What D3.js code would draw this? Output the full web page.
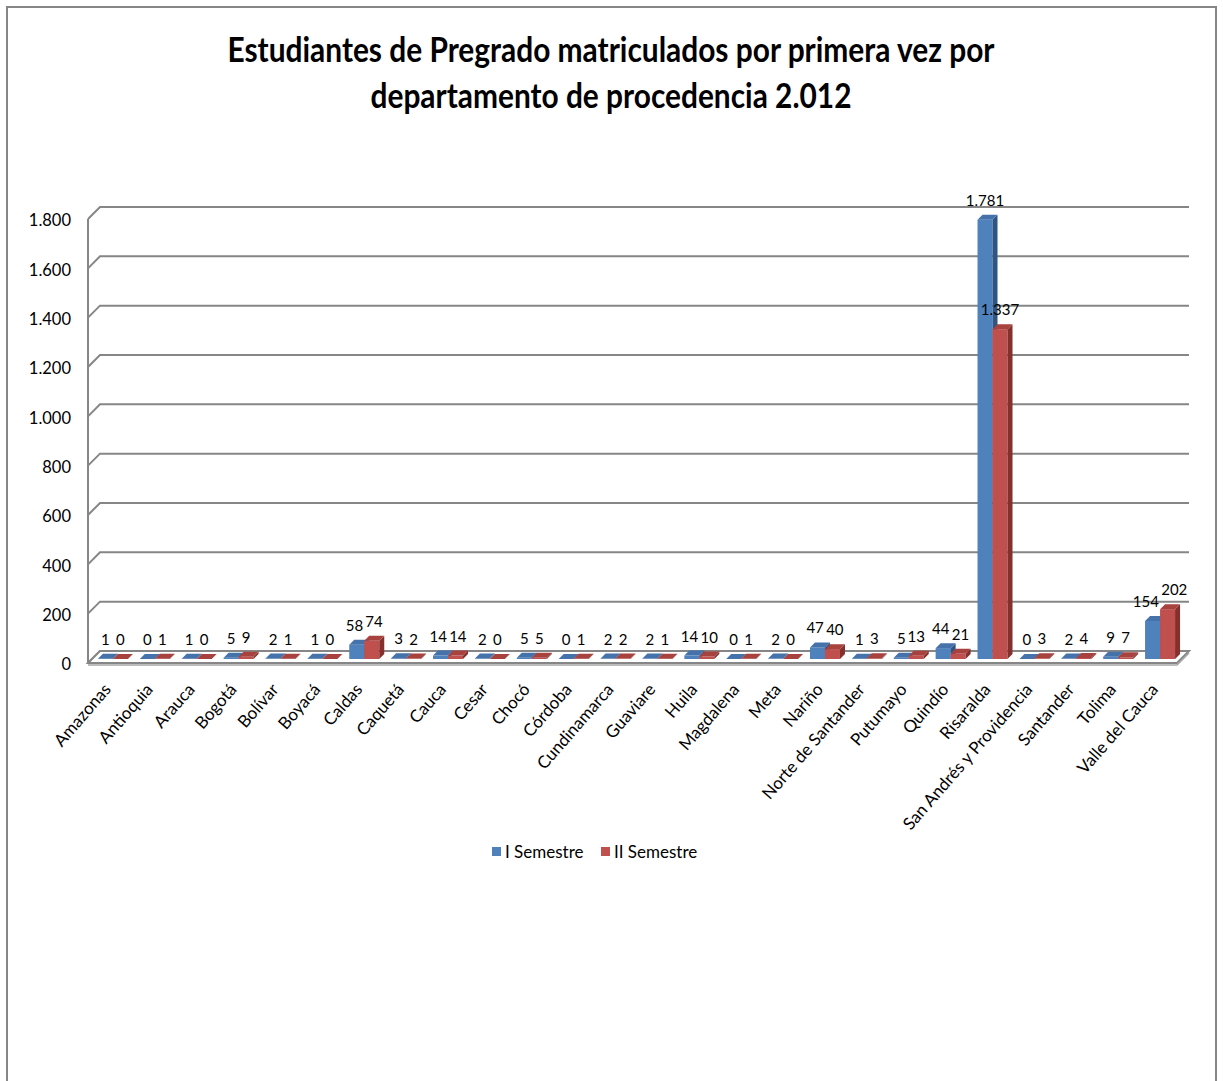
<!DOCTYPE html>
<html>
<meta charset="utf-8">
<title>Estudiantes de Pregrado 2012</title>
<style>
    body {
        margin: 0;
        background: #fff;
    }

    text {
        font-family: Lato, "Open Sans", sans-serif;
        fill: #000;
    }

    .grid {
        fill: none;
        stroke: #868686;
        stroke-width: 2px;
    }
</style>
<script src="https://d3js.org/d3.v7.min.js" charset="utf-8"></script>

<body>
<script>
    // data
    let departamentos = ["Amazonas", "Antioquia", "Arauca", "Bogotá", "Bolívar", "Boyacá", "Caldas", "Caquetá",
        "Cauca", "Cesar", "Chocó", "Córdoba", "Cundinamarca", "Guaviare", "Huila", "Magdalena", "Meta", "Nariño",
        "Norte de Santander", "Putumayo", "Quindío", "Risaralda", "San Andrés y Providencia", "Santander",
        "Tolima", "Valle del Cauca"]
    let semestre1 = [1, 0, 1, 5, 2, 1, 58, 3, 14, 2, 5, 0, 2, 2, 14, 0, 2, 47, 1, 5, 44, 1781, 0, 2, 9, 154]
    let semestre2 = [0, 1, 0, 9, 1, 0, 74, 2, 14, 0, 5, 1, 2, 1, 10, 1, 0, 40, 3, 13, 21, 1337, 3, 4, 7, 202]
    let seriesNames = ["I Semestre", "II Semestre"]
    let yTicks = [0, 200, 400, 600, 800, 1000, 1200, 1400, 1600, 1800]
    let titleLines = ["Estudiantes de Pregrado matriculados por primera vez por",
        "departamento de procedencia 2.012"]

    let colors = {
        "I Semestre": { front: "#4F81BD", top: "#4572AA", side: "#2E5584" },
        "II Semestre": { front: "#C0504D", top: "#A8423F", side: "#86302E" }
    }

    let es = d3.formatLocale({ decimal: ",", thousands: ".", grouping: [3], currency: ["$", ""] })
    let fmt = es.format(",d")

    const W = 1223, H = 1081
    const depth = 12          // oblique offset of the back wall
    const barZ0 = 4, barZ1 = 9 // bars sit between these depths

    let svg = d3.select("body").append("svg")
        .attr("width", W).attr("height", H)

    svg.append("rect")
        .attr("x", 7).attr("y", 7)
        .attr("width", 1209).attr("height", 1090)
        .attr("fill", "#fff")
        .attr("stroke", "#868686").attr("stroke-width", 2)

    // title
    let title = svg.append("g")
    title.selectAll("text")
        .data(titleLines)
        .join("text")
        .attr("x", 611)
        .attr("y", (d, i) => 62 + i * 46)
        .attr("text-anchor", "middle")
        .attr("font-size", 34)
        .attr("font-weight", "bold")
        .attr("textLength", (d, i) => i == 0 ? 767 : 481)
        .attr("lengthAdjust", "spacingAndGlyphs")
        .text(d => d)

    // scales, front plane
    let x0 = d3.scaleBand()
        .domain(departamentos)
        .range([88, 1177])
        .paddingInner(0.284)
        .paddingOuter(0.142)
    let x1 = d3.scaleBand()
        .domain(seriesNames)
        .range([0, x0.bandwidth()])
    // y on back wall
    let y = d3.scaleLinear()
        .domain([0, 1800])
        .range([651, 207])

    let xLeft = 88, xRight = 1177

    // walls and gridlines
    let grid = svg.append("g")
    grid.selectAll("path.gl")
        .data(yTicks)
        .join("path")
        .attr("class", "grid gl")
        .attr("d", d => `M${xLeft},${y(d) + depth}L${xLeft + depth},${y(d)}L${xRight + depth},${y(d)}`)
    grid.append("line")
        .attr("class", "grid")
        .attr("x1", xLeft).attr("x2", xLeft)
        .attr("y1", y(1800) + depth).attr("y2", y(0) + depth)

    // floor
    grid.append("path")
        .attr("fill", "#fff")
        .attr("stroke", "#868686")
        .attr("stroke-width", 2)
        .attr("d", `M${xLeft},${y(0) + depth}L${xRight},${y(0) + depth}L${xRight + depth},${y(0)}L${xLeft + depth},${y(0)}Z`)
    grid.append("path")
        .attr("fill", "none")
        .attr("stroke", "#a6a6a6")
        .attr("stroke-width", 1.5)
        .attr("d", `M${xLeft},${y(0) + depth + 2}L${xRight},${y(0) + depth + 2}L${xRight + depth},${y(0) + 2}`)

    // y tick labels
    svg.append("g").selectAll("text")
        .data(yTicks)
        .join("text")
        .attr("x", 71)
        .attr("y", d => y(d) + depth + 3)
        .attr("text-anchor", "end")
        .attr("dominant-baseline", "middle")
        .attr("font-size", 16.5)
        .text(d => fmt(d))

    let rows = []
    departamentos.forEach((c, i) => {
        rows.push({ cat: c, serie: seriesNames[0], value: semestre1[i] })
        rows.push({ cat: c, serie: seriesNames[1], value: semestre2[i] })
    })

    let bw = x1.bandwidth()
    let dz = barZ1 - barZ0
    let bars = svg.append("g").selectAll("g")
        .data(rows)
        .join("g")
        .attr("transform", d => `translate(${x0(d.cat) + x1(d.serie) + barZ0},${-barZ0})`)

    bars.each(function (d) {
        let g = d3.select(this)
        let yt = y(d.value) + depth, yb = y(0) + depth
        let c = colors[d.serie]
        if (d.value > 0) {
            g.append("rect")
                .attr("x", 0).attr("y", yt)
                .attr("width", bw).attr("height", yb - yt)
                .attr("fill", c.front)
            g.append("path")
                .attr("fill", c.side)
                .attr("d", `M${bw},${yt}L${bw + dz},${yt - dz}L${bw + dz},${yb - dz}L${bw},${yb}Z`)
        }
        g.append("path")
            .attr("fill", c.top)
            .attr("d", `M0,${yt}L${bw},${yt}L${bw + dz},${yt - dz}L${dz},${yt - dz}Z`)
    })

    // value labels
    let vlabels = svg.append("g").selectAll("text")
        .data(rows)
        .join("text")
        .attr("x", d => x0(d.cat) + x1(d.serie) + barZ0 + bw / 2)
        .attr("y", d => y(d.value) + depth - barZ0 - 14)
        .attr("text-anchor", "middle")
        .attr("font-size", 15)
        .text(d => fmt(d.value))

    // push apart the two labels of a group when they collide
    let nodes = vlabels.nodes()
    for (let i = 0; i < nodes.length; i += 2) {
        let a = nodes[i], b = nodes[i + 1]
        let ba = a.getBBox(), bb = b.getBBox()
        let overlapX = ba.x + ba.width - bb.x
        let overlapY = Math.min(ba.y + ba.height, bb.y + bb.height) - Math.max(ba.y, bb.y)
        if (overlapX > 0 && overlapY > 0) {
            let s = overlapX / 2 + 1
            d3.select(a).attr("x", +a.getAttribute("x") - s)
            d3.select(b).attr("x", +b.getAttribute("x") + s)
        }
    }

    // category labels
    svg.append("g").selectAll("text")
        .data(departamentos)
        .join("text")
        .attr("transform", d => `translate(${x0(d) + x0.bandwidth() / 2 + 3},${y(0) + depth + 27}) rotate(-49)`)
        .attr("text-anchor", "end")
        .attr("font-size", 17)
        .text(d => d)

    // legend
    let legend = svg.append("g").attr("transform", "translate(492,847)")
    let li = legend.selectAll("g")
        .data(seriesNames)
        .join("g")
        .attr("transform", (d, i) => `translate(${i * 109},0)`)
    li.append("rect")
        .attr("width", 9).attr("height", 9)
        .attr("fill", d => colors[d].front)
    li.append("text")
        .attr("x", 13).attr("y", 11)
        .attr("font-size", 17)
        .text(d => d)
</script>
</body>

</html>
